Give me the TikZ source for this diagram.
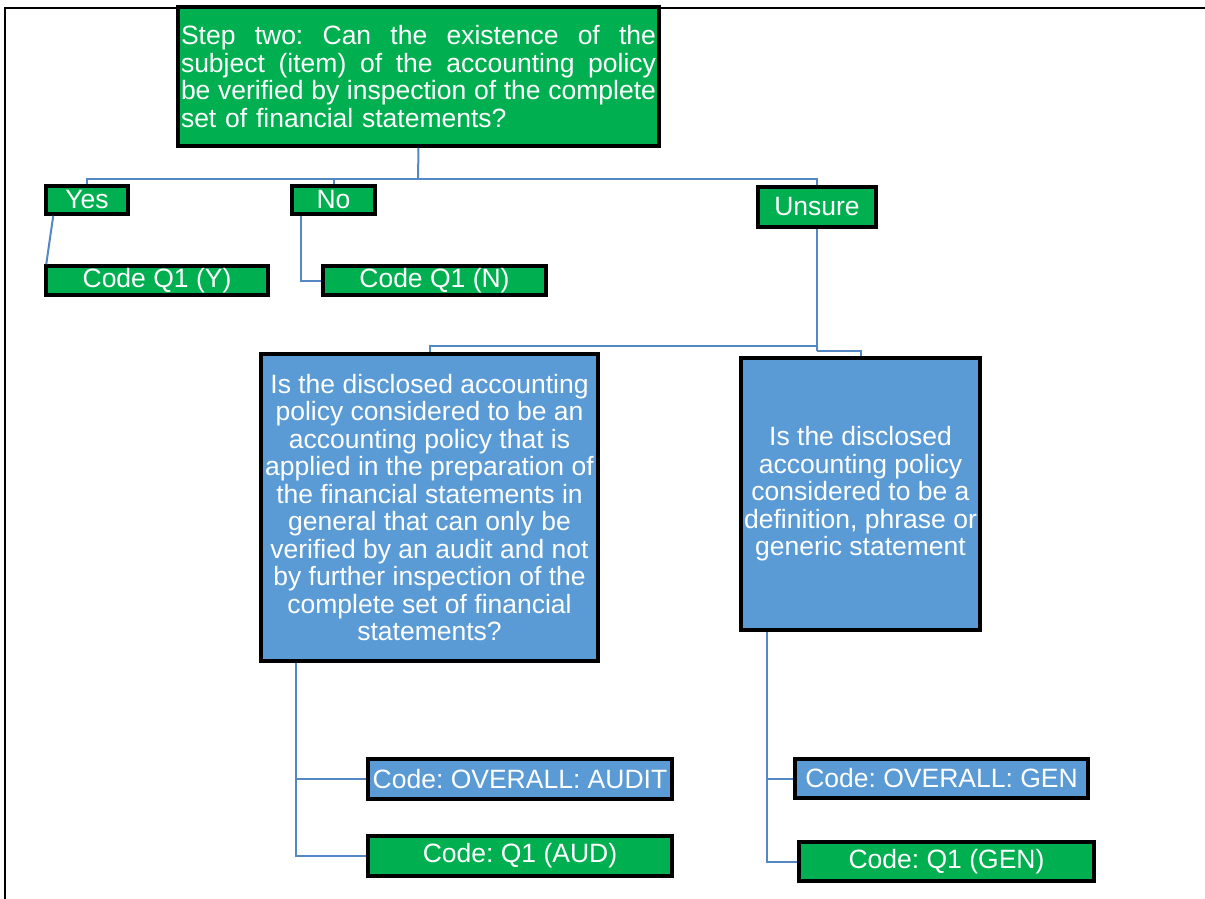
\documentclass[tikz,border=0pt]{standalone}
\usepackage{fontspec}
\setmainfont{Liberation Sans}
\definecolor{boxgreen}{HTML}{00B050}
\definecolor{boxblue}{HTML}{5B9BD5}
\definecolor{connblue}{RGB}{84,136,196}
\newcommand{\jline}[1]{\makebox[475pt][s]{\spaceskip=0pt\xspaceskip=0pt\frenchspacing #1}}
\begin{document}
\begin{tikzpicture}[x=1pt,y=-1pt,
  base/.style={draw=black, line width=3.5pt, inner sep=0pt, text=white,
    font=\fontsize{26.5}{27.5}\selectfont\frenchspacing, align=center},
  gbox/.style={base, fill=boxgreen},
  bbox/.style={base, fill=boxblue},
  conn/.style={draw=connblue, line width=2pt}]
\useasboundingbox (0,0) rectangle (1205,899);
\draw[line width=2pt] (5,899) -- (5,8) -- (1205,8);

\node[gbox, minimum width=481pt, minimum height=139pt, text width=475pt, align=left] (top) at (418.5,76.5)
 {\jline{Step two: Can the existence of the}\\
  \jline{subject (item) of the accounting policy}\\
  \jline{be verified by inspection of the complete}\\
  set of financial statements?};

\node[gbox, minimum width=82pt, minimum height=28pt] (yes) at (87,200) {Yes};
\node[gbox, minimum width=83pt, minimum height=28pt] (no) at (333.5,200) {No};
\node[gbox, minimum width=118pt, minimum height=40pt] (unsure) at (817,207) {Unsure};
\node[gbox, minimum width=222pt, minimum height=29pt] (cy) at (157,280.5) {Code Q1 (Y)};
\node[gbox, minimum width=223pt, minimum height=29pt] (cn) at (434.5,280.5) {Code Q1 (N)};

\node[bbox, minimum width=337pt, minimum height=307pt] (lq) at (429.5,507.5)
 {Is the disclosed accounting\\ policy considered to be an\\ accounting policy that is\\ applied in the preparation of\\ the financial statements in\\ general that can only be\\ verified by an audit and not\\ by further inspection of the\\ complete set of financial\\ statements?};
\node[bbox, minimum width=239pt, minimum height=272pt] (rq) at (860.5,494)
 {Is the disclosed\\ accounting policy\\ considered to be a\\ definition, phrase or\\ generic statement};

\node[bbox, minimum width=304pt, minimum height=40pt] (oa) at (520,779) {Code: OVERALL: AUDIT};
\node[gbox, minimum width=304pt, minimum height=40pt] (qa) at (520,856) {Code: Q1 (AUD)};
\node[bbox, minimum width=293pt, minimum height=39pt] (og) at (941.5,778.5) {Code: OVERALL: GEN};
\node[gbox, minimum width=295pt, minimum height=39pt] (qg) at (946.5,861.5) {Code: Q1 (GEN)};

% connectors
\coordinate (j) at (418,179);
\coordinate (k) at (817,346);
\coordinate (m) at (817,351);
\coordinate (ls) at ([xshift=-133.5pt]lq.south);
\coordinate (rs) at ([xshift=-93.5pt]rq.south);
\draw[conn] (top.south) -- (j);
\draw[conn] (yes.north) -- (yes.north |- j) -- (unsure.north |- j) -- (unsure.north);
\draw[conn] (no.north) -- (no.north |- j);
\draw[conn] ([xshift=9pt]yes.south west) -- ([xshift=2pt]cy.north west);
\draw[conn] ([xshift=-32.5pt]no.south) |- (cn.west);
\draw[conn] (unsure.south) -- (m);
\draw[conn] (k) -- (lq.north |- k) -- (lq.north);
\draw[conn] (m) -- (rq.north |- m) -- (rq.north);
\draw[conn] (ls) |- (qa.west);
\draw[conn] (oa.west) -- (oa.west -| ls);
\draw[conn] (rs) |- (qg.west);
\draw[conn] (og.west) -- (og.west -| rs);
\end{tikzpicture}
\end{document}
